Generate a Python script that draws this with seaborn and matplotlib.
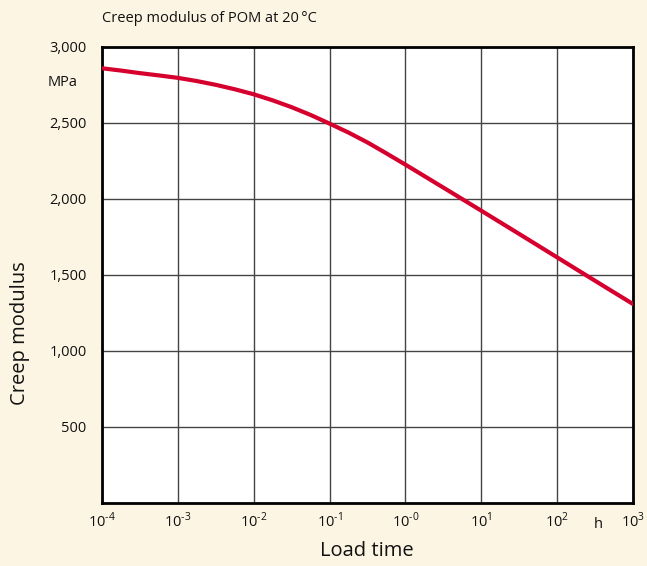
import matplotlib
matplotlib.use("Agg")
import matplotlib.pyplot as plt
import seaborn as sns
import pandas as pd

# data (load time in h, creep modulus in MPa)
load_time_exp = [-4, -3.75, -3.5, -3.25, -3, -2.75, -2.5, -2.25, -2, -1.75, -1.5, -1.25, -1,
                 -0.75, -0.5, -0.25, 0, 0.5, 1, 1.5, 2, 2.5, 3]
creep_modulus = [2860, 2845, 2828, 2813, 2797, 2776, 2751, 2722, 2689, 2649, 2604, 2553, 2496,
                 2437, 2372, 2300, 2226, 2075, 1923, 1770, 1616, 1462, 1309]
x_tick_exps = [-4, -3, -2, -1, 0, 1, 2, 3]
x_tick_sups = ["\u20104", "\u20103", "\u20102", "\u20101", "\u20100", "1", "2", "3"]
y_ticks = [500, 1000, 1500, 2000, 2500, 3000]
y_tick_labels = ["500", "1,000", "1,500", "2,000", "2,500", "3,000"]

sns.set_theme(style="white")
plt.rcParams["font.family"] = ["Open Sans", "DejaVu Sans"]
plt.rcParams["mathtext.fontset"] = "custom"
plt.rcParams["mathtext.rm"] = "Open Sans"

bg = "#fdf5e3"
fig = plt.figure(figsize=(6.47, 5.66), dpi=100, facecolor=bg)
ax = fig.add_axes([102/647, 1 - 503/566, (633-102)/647, (503-47)/566])
ax.set_facecolor("white")

df = pd.DataFrame({"t": [10.0**e for e in load_time_exp], "E": creep_modulus})
sns.lineplot(data=df, x="t", y="E", ax=ax, color="#d6002f", linewidth=3.0, zorder=3)

ax.set_xscale("log")
ax.set_xlim(1e-4, 1e3)
ax.set_ylim(0, 3000)
ax.set_xticks([10.0**e for e in x_tick_exps])
ax.set_xticklabels(["10$^{\\mathregular{%s}}$" % s for s in x_tick_sups])
ax.xaxis.set_minor_locator(matplotlib.ticker.NullLocator())
ax.set_yticks(y_ticks)
ax.set_yticklabels(y_tick_labels)
ax.tick_params(axis="both", length=0, labelsize=10.5, colors="#111111")
ax.tick_params(axis="y", pad=11)
ax.tick_params(axis="x", pad=6)
ax.grid(True, color="#444444", linewidth=1.0)
for s in ax.spines.values():
    s.set_color("black")
    s.set_linewidth(2.0)
ax.set_xlabel("")
ax.set_ylabel("")

fig.text(102/647, 1 - 19/566, "Creep modulus of POM at 20\u2009\u00b0C", fontsize=10.5, va="center", ha="left", color="#111111")
fig.text(48/647, 1 - 83/566, "MPa", fontsize=10.5, va="center", ha="left", color="#111111")
fig.text(598/647, 1 - 524/566, "h", fontsize=10.5, va="center", ha="center", color="#111111")
fig.text(367/647, 1 - 551/566, "Load time", fontsize=14.5, va="center", ha="center", color="#111111")
fig.text(20/647, 1 - 333/566, "Creep modulus", fontsize=14.5, va="center", ha="center", rotation=90, color="#111111")

fig.savefig("out.png", dpi=100, facecolor=bg)
